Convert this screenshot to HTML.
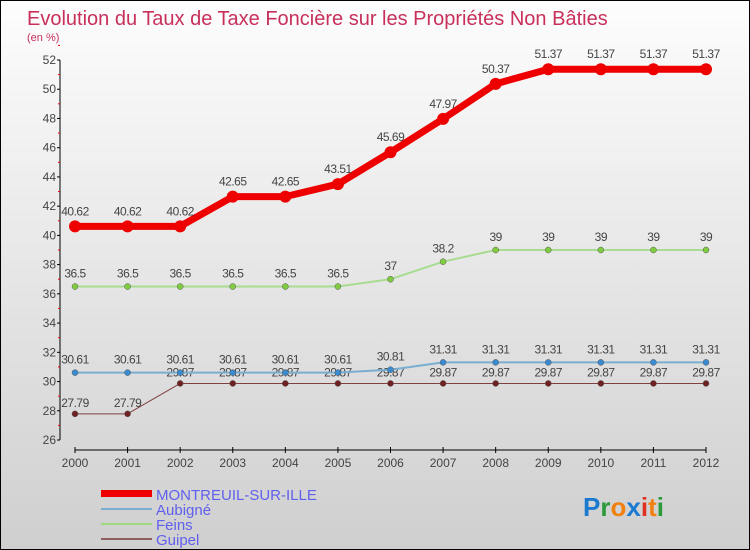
<!DOCTYPE html>
<html><head><meta charset="utf-8"><style>
body{margin:0}
#wrap{width:748px;height:548px;border:1px solid #000;background:linear-gradient(#fdfdfd,#cfcfcf);position:relative;overflow:hidden;font-family:"Liberation Sans",sans-serif}
svg text{font-family:"Liberation Sans",sans-serif}
</style></head><body>
<div id="wrap">
<svg id="chart" width="748" height="548">
<text x="26" y="24" font-size="20" fill="#c8305a">Evolution du Taux de Taxe Foncière sur les Propriétés Non Bâties</text>
<text x="26" y="40" font-size="11" fill="#c8305a">(en %)</text>
<g id="axes"></g><g id="series"></g>
<g>
<rect x="100" y="489" width="51" height="7" fill="#e00"/>
<text x="155" y="499" font-size="15" fill="#6060ee">MONTREUIL-SUR-ILLE</text>
<rect x="100" y="507" width="51" height="2" fill="#7aaed0"/>
<text x="155" y="514" font-size="15" fill="#6060ee">Aubigné</text>
<rect x="100" y="522" width="51" height="2" fill="#a0d880"/>
<text x="155" y="529" font-size="15" fill="#6060ee">Feins</text>
<rect x="100" y="537" width="51" height="2" fill="#906060"/>
<text x="155" y="544" font-size="15" fill="#6060ee">Guipel</text>
</g>
<text x="582" y="515" font-size="26" font-weight="bold"><tspan fill="#1a7ad0">P</tspan><tspan fill="#2a9a3a">r</tspan><tspan fill="#f08010">o</tspan><tspan fill="#1a7ad0">x</tspan><tspan fill="#e03020">i</tspan><tspan fill="#f08010">t</tspan><tspan fill="#2a9a3a">i</tspan></text>
</svg></div>
<script>
const years=[2000,2001,2002,2003,2004,2005,2006,2007,2008,2009,2010,2011,2012];
const montreuil=[40.62,40.62,40.62,42.65,42.65,43.51,45.69,47.97,50.37,51.37,51.37,51.37,51.37];
const aubigne=[30.61,30.61,30.61,30.61,30.61,30.61,30.81,31.31,31.31,31.31,31.31,31.31,31.31];
const feins=[36.5,36.5,36.5,36.5,36.5,36.5,37,38.2,39,39,39,39,39];
const guipel=[27.79,27.79,29.87,29.87,29.87,29.87,29.87,29.87,29.87,29.87,29.87,29.87,29.87];
const yTicks=[26,28,30,32,34,36,38,40,42,44,46,48,50,52];
const NS="http://www.w3.org/2000/svg";
const x=i=>74+i*(705-74)/(years.length-1);
const y=v=>59+(52-v)*(380/26);
function mk(t,a,p){const e=document.createElementNS(NS,t);for(const k in a)e.setAttribute(k,a[k]);p.appendChild(e);return e;}
const ax=document.getElementById('axes'),sr=document.getElementById('series');
const yl=mk('line',{x1:59,y1:59,x2:59,y2:439,stroke:'#000'},ax);


yTicks.forEach(v=>{
 mk('line',{x1:56,x2:59,y1:y(v),y2:y(v),stroke:'#000'},ax);
 mk('line',{x1:57,x2:59,y1:y(v+1),y2:y(v+1),stroke:'#e00'},ax);
 const t=mk('text',{x:55,y:y(v)+4,'font-size':12,fill:'#444','text-anchor':'end'},ax);t.textContent=v;
 
 
});
const xl=mk('line',{x1:x(0),y1:449,x2:x(12),y2:449,stroke:'#000'},ax);


years.forEach((yr,i)=>{
 mk('line',{x1:x(i),x2:x(i),y1:446,y2:452,stroke:'#000'},ax);
 const t=mk('text',{x:x(i),y:466,'font-size':12,fill:'#444','text-anchor':'middle'},ax);t.textContent=yr;
 
 
});
function series(name,vals,color,w,r,dot,labelOff){
 const g=mk('g',{},sr);
 
 
 mk('polyline',{points:vals.map((v,i)=>x(i)+','+y(v)).join(' '),fill:'none',stroke:color,'stroke-width':w,'stroke-linejoin':'round'},g);
 vals.forEach((v,i)=>{
  const c=mk('circle',{cx:x(i),cy:y(v),r:r,fill:dot,stroke:'#555','stroke-width':r>4?0:0.5},g);
  
  
  const t=mk('text',{x:x(i),y:y(v)-labelOff,'font-size':12,fill:'#444','text-anchor':'middle','letter-spacing':'-0.5'},g);t.textContent=v;
  
  
 });
}
series('guipel',guipel,'#804040',1,3,'#702020',7);
series('aubigne',aubigne,'#7aaed0',2,3,'#3a8ad0',9);
series('feins',feins,'#a8dc90',2,3,'#80cc40',9);
series('montreuil',montreuil,'#ee0000',7,6,'#ee0000',11);
</script>
</body></html>
